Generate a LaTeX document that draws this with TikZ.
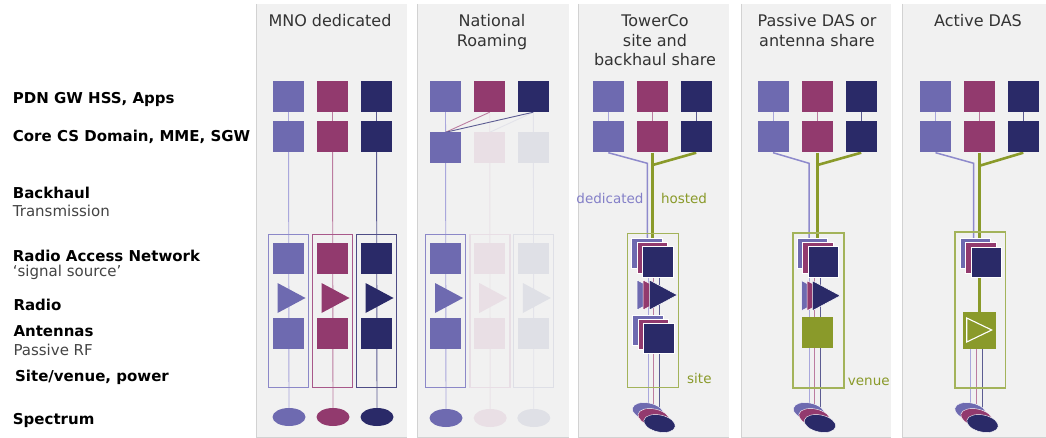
\documentclass[tikz,border=0pt]{standalone}
\usepackage{fontspec}
\setmainfont{DejaVu Sans}
\usetikzlibrary{shapes.geometric}
\pgfdeclarelayer{panels}
\pgfdeclarelayer{lines}
\pgfsetlayers{panels,lines,main}
\definecolor{cP}{HTML}{6E6AB0}
\definecolor{cM}{HTML}{923A6E}
\definecolor{cN}{HTML}{2A2A68}
\definecolor{cG}{HTML}{8A9A2A}
\definecolor{cGl}{HTML}{A3B35A}
\definecolor{lP}{HTML}{A9A7DC}
\definecolor{lM}{HTML}{BC7CA0}
\definecolor{lN}{HTML}{5C5C92}
\definecolor{lP2}{HTML}{8E8ACC}
\definecolor{bP}{HTML}{8C88C8}
\definecolor{bM}{HTML}{A8588A}
\definecolor{bN}{HTML}{4E4C86}
\definecolor{fM}{HTML}{E9DFE5}
\definecolor{fN}{HTML}{DFE0E6}
\definecolor{fbM}{HTML}{E8DEE5}
\definecolor{fbN}{HTML}{DEDFE6}
\definecolor{flM}{HTML}{EAE3E8}
\definecolor{flN}{HTML}{E3E3EA}
\definecolor{panel}{HTML}{F1F1F1}
\definecolor{pedge}{HTML}{D2D2D2}
\definecolor{txt}{HTML}{333333}
\definecolor{txt2}{HTML}{444444}
\definecolor{dedic}{HTML}{8480C8}
\begin{document}
\begin{tikzpicture}[x=1pt,y=-1pt,
  sq/.style={rectangle, fill=#1, minimum width=31, minimum height=31, inner sep=0},
  ell/.style={ellipse, fill=#1, minimum width=33, minimum height=18, inner sep=0},
  stk/.style={sq=#1, minimum width=30.5, minimum height=30.5, draw=white, line width=0.4},
  sell/.style={ellipse, fill=#1, minimum width=32, minimum height=17, inner sep=0, rotate=-12, draw=white, line width=0.4},
  ranbox/.style={rectangle, draw=#1, line width=1.1, minimum width=40, minimum height=153, inner sep=0},
  gbox/.style={rectangle, draw=cGl, line width=1.5, inner sep=0},
  conn/.style={draw=#1, line width=0.9},
  dedline/.style={draw=lP2, line width=1.5},
  hostline/.style={draw=cG, line width=2.6},
  head/.style={align=center, inner sep=0, anchor=north, text=txt, font=\fontsize{16}{19.5}\selectfont},
  lab/.style={anchor=base west, inner sep=0, text=black, font=\bfseries\fontsize{15}{18}\selectfont},
  sub/.style={anchor=base west, inner sep=0, text=txt2, font=\fontsize{15}{18}\selectfont},
  small/.style={anchor=base, inner sep=0, font=\fontsize{13.5}{16}\selectfont},
  tri/.pic={\path[pic actions] (0,-15) -- (28,0) -- (0,15) -- cycle;},
  amptri/.pic={\path[pic actions] (0,-12) -- (25,0) -- (0,12) -- cycle;}
]
\useasboundingbox (0,0) rectangle (1046,438);
\begin{pgfonlayer}{panels}
\fill[white] (0,0) rectangle (1046,438);
\foreach \a/\b in {256/406.5, 417/568.5, 578/729, 741/891, 902/1047} {
  \fill[panel] (\a,4) rectangle (\b,437);
  \draw[pedge, line width=1] (\a,4) -- (\a,437) -- (\b,437);
}
\end{pgfonlayer}

% left labels
\node[lab] (l1) at (12.7,103.3) {PDN GW HSS, Apps};
\node[lab] (l2) at (12.7,141.7) {Core CS Domain, MME, SGW};
\node[lab] (l3) at (12.7,199) {Backhaul};
\node[sub] (l3s) at (12.7,216.7) {Transmission};
\node[lab] (l4) at (12.7,261.7) {Radio Access Network};
\node[sub] (l4s) at (12.7,276.5) {‘signal source’};
\node[lab] (l5) at (13.3,310.7) {Radio};
\node[lab] (l6) at (13.3,336.7) {Antennas};
\node[sub] (l6s) at (13.3,355) {Passive RF};
\node[lab] (l7) at (15,381.3) {Site/venue, power};
\node[lab] (l8) at (12.7,424.3) {Spectrum};

% headings
\node[head] (h1) at (330,14.5) {MNO dedicated};
\node[head] (h2) at (492,14.5) {National\\Roaming};
\node[head] (h3) at (655,14.5) {TowerCo\\site and\\backhaul share};
\node[head] (h4) at (817,14.5) {Passive DAS or\\antenna share};
\node[head] (h5) at (978,14.5) {Active DAS};

% ---------- panel 1: MNO dedicated
\foreach \i/\x/\c/\l/\b in {1/288.5/cP/lP/bP, 2/332.5/cM/lM/bM, 3/376.5/cN/lN/bN} {
  \node[sq=\c] (p1a\i) at (\x,96.5) {};
  \node[sq=\c] (p1b\i) at (\x,137) {};
  \node[sq=\c] (p1r\i) at (\x,258.5) {};
  \pic[fill=\c] at (\x-11,298) {tri};
  \node[sq=\c] (p1t\i) at (\x,333) {};
  \node[ell=\c] (p1e\i) at (\x+0.5,417) {};
  \node[ranbox=\b] (p1x\i) at (\x,310.8) {};
  \begin{pgfonlayer}{lines}
    \draw[conn=\l] (p1a\i) -- (p1e\i);
  \end{pgfonlayer}
}

% ---------- panel 2: National roaming
\node[sq=cP] (p2a1) at (445.5,96.5) {};
\node[sq=cM] (p2a2) at (489.7,96.5) {};
\node[sq=cN] (p2a3) at (533.3,96.5) {};
\foreach \i/\x/\c/\b/\l in {1/445.5/cP/bP/lP, 2/489.7/fM/fbM/flM, 3/533.3/fN/fbN/flN} {
  \node[sq=\c] (p2b\i) at (\x,148) {};
  \node[sq=\c] (p2r\i) at (\x,258.7) {};
  \pic[fill=\c] at (\x-10.5,298) {tri};
  \node[sq=\c] (p2t\i) at (\x,333) {};
  \node[ell=\c] (p2e\i) at (\x+0.5,418) {};
  \node[ranbox=\b] (p2x\i) at (\x+0.3,310.8) {};
  \begin{pgfonlayer}{lines}
    \draw[conn=\l] (p2a\i) -- (p2e\i);
  \end{pgfonlayer}
}
\begin{pgfonlayer}{lines}
  \draw[conn=flN] (p2a3.south) -- (p2b2.north);
  \draw[conn=lM] (p2a2.south) -- (p2b1.north);
  \draw[conn=lN] (p2a3.south) -- (p2b1.north);
\end{pgfonlayer}

% ---------- panels 3-5: top squares
\foreach \p/\xa/\xb/\xc in {3/608.3/652.7/696.2, 4/773/817.5/861.2, 5/935.5/979.7/1023.3} {
  \node[sq=cP] (p\p a1) at (\xa,96.5) {};
  \node[sq=cM] (p\p a2) at (\xb,96.5) {};
  \node[sq=cN] (p\p a3) at (\xc,96.5) {};
  \node[sq=cP] (p\p b1) at (\xa,137) {};
  \node[sq=cM] (p\p b2) at (\xb,137) {};
  \node[sq=cN] (p\p b3) at (\xc,137) {};
  \begin{pgfonlayer}{lines}
    \draw[conn=lP] (p\p a1) -- (p\p b1);
    \draw[conn=lM] (p\p a2) -- (p\p b2);
    \draw[conn=lN] (p\p a3) -- (p\p b3);
  \end{pgfonlayer}
}

% ---------- panel 3: TowerCo
\node[gbox, minimum width=51, minimum height=154] (p3box) at (652.8,310.3) {};
\node[stk=cP] (p3s1) at (646.7,253.3) {};
\node[stk=cM] (p3s2) at (652.2,257.5) {};
\node[stk=cN] (p3s3) at (657.7,261.7) {};
\pic[fill=cP, draw=white, line width=0.5] at (637,295) {tri};
\pic[fill=cM, draw=white, line width=0.5] at (643,295) {tri};
\pic[fill=cN, draw=white, line width=0.5] at (649.3,295) {tri};
\node[stk=cP] (p3t1) at (647.7,330) {};
\node[stk=cM] (p3t2) at (653.2,334) {};
\node[stk=cN] (p3t3) at (658.7,338) {};
\node[sell=cP] (p3e1) at (648,411.5) {};
\node[sell=cM] (p3e2) at (653.7,417.5) {};
\node[sell=cN] (p3e3) at (659.5,423.5) {};
\coordinate (p3d) at (647.3,163.3);
\coordinate (p3h) at (652.7,165);
\begin{pgfonlayer}{lines}
  \draw[dedline] (p3b1.south) -- (p3d) -- (p3d |- p3s1.north);
  \draw[hostline] (p3b2.south) -- (p3b2.south |- p3s1.north);
  \draw[hostline] (p3b3.south) -- (p3h);
  \draw[conn=lP] (p3e1.center |- p3s1.center) -- (p3e1.center);
  \draw[conn=lM] (p3e2.center |- p3s1.center) -- (p3e2.center);
  \draw[conn=lN] (p3e3.center |- p3s1.center) -- (p3e3.center);
\end{pgfonlayer}
\node[small, text=dedic] (p3dl) at (610,204) {dedicated};
\node[small, text=cG] (p3hl) at (684,204) {hosted};
\node[small, text=cG, anchor=base west] (p3sl) at (687,383.3) {site};

% ---------- panel 4: Passive DAS
\node[gbox, minimum width=51, minimum height=155] (p4box) at (818.5,310.3) {};
\node[stk=cP] (p4s1) at (812.3,253.3) {};
\node[stk=cM] (p4s2) at (817.8,257.5) {};
\node[stk=cN] (p4s3) at (823.2,261.7) {};
\pic[fill=cP, draw=white, line width=0.5] at (801.7,295.7) {tri};
\pic[fill=cM, draw=white, line width=0.5] at (807,295.7) {tri};
\pic[fill=cN, draw=white, line width=0.5] at (812.3,295.7) {tri};
\node[sq=cG, minimum width=31.6, minimum height=31.6] (p4g) at (817.5,332.5) {};
\node[sell=cP] (p4e1) at (809,411.5) {};
\node[sell=cM] (p4e2) at (814.5,417.5) {};
\node[sell=cN] (p4e3) at (820,423.5) {};
\coordinate (p4d) at (809,163.3);
\coordinate (p4h) at (817.5,165);
\begin{pgfonlayer}{lines}
  \draw[dedline] (p4b1.south) -- (p4d) -- (p4d |- p4s1.north);
  \draw[hostline] (p4b2.south) -- (p4b2.south |- p4s1.north);
  \draw[hostline] (p4b3.south) -- (p4h);
  \draw[conn=lP] (p4e1.center |- p4s1.center) -- (p4e1.center);
  \draw[conn=lM] (p4e2.center |- p4s1.center) -- (p4e2.center);
  \draw[conn=lN] (p4e3.center |- p4s1.center) -- (p4e3.center);
\end{pgfonlayer}
\node[small, text=cG, anchor=base west] (p4vl) at (847.7,385) {venue};

% ---------- panel 5: Active DAS
\node[gbox, minimum width=50.5, minimum height=156] (p5box) at (980.2,310) {};
\node[stk=cP] (p5s1) at (975,253.3) {};
\node[stk=cM] (p5s2) at (980.5,257.5) {};
\node[stk=cN] (p5s3) at (986.2,262) {};
\node[rectangle, fill=cG, minimum width=32.5, minimum height=37.5, inner sep=0] (p5amp) at (979.5,330.5) {};
\pic[draw=white, line width=1.1] at (966.7,330) {amptri};
\node[sell=cP] (p5e1) at (970.5,411.5) {};
\node[sell=cM] (p5e2) at (976.5,417.5) {};
\node[sell=cN] (p5e3) at (982.5,423.5) {};
\coordinate (p5d) at (973.7,163.3);
\coordinate (p5h) at (979.7,165.7);
\begin{pgfonlayer}{lines}
  \draw[dedline] (p5b1.south) -- (p5d) -- (p5d |- p5s1.north);
  \draw[hostline] (p5b2.south) -- (p5b2.south |- p5s1.north);
  \draw[hostline] (p5b3.south) -- (p5h);
  \draw[hostline] (p5amp.north |- p5s3.south) -- (p5amp.north);
  \draw[conn=lP] (p5e1.center |- p5amp.center) -- (p5e1.center);
  \draw[conn=lM] (p5e2.center |- p5amp.center) -- (p5e2.center);
  \draw[conn=lN] (p5e3.center |- p5amp.center) -- (p5e3.center);
\end{pgfonlayer}
\end{tikzpicture}
\end{document}
